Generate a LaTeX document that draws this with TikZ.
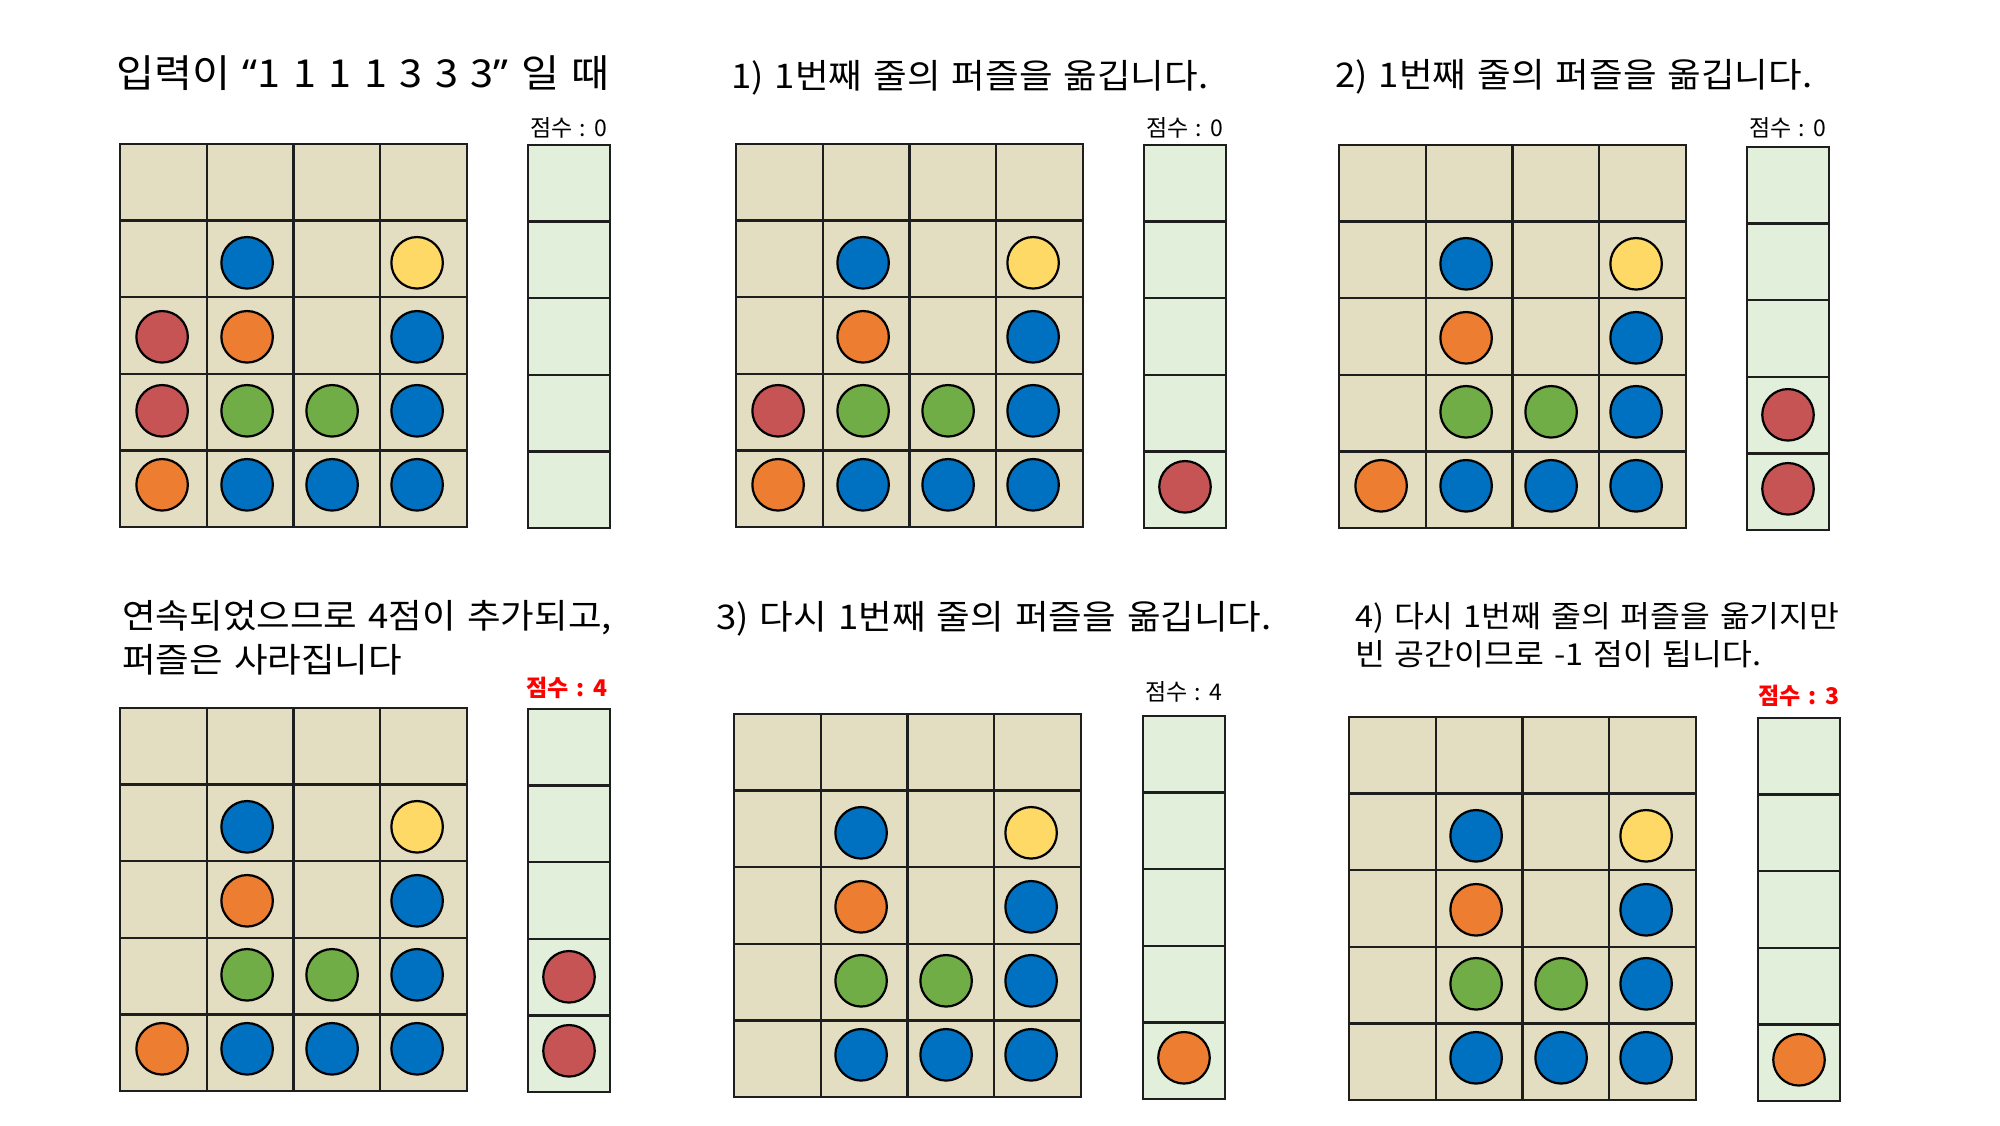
\documentclass[tikz,border=0pt]{standalone}
\usepackage{fontspec}
\setmainfont[WordSpace=1.35]{Noto Sans CJK KR}
\newfontfamily\titlefont[WordSpace=1.35,FakeStretch=1.075]{Noto Sans CJK KR}
\newfontfamily\latfont[FakeStretch=1.075]{Noto Sans}
\definecolor{beigeF}{HTML}{E3DDC1}
\definecolor{scoreF}{HTML}{E2EFDA}
\definecolor{gridL}{HTML}{1E1E1E}
\definecolor{blueB}{HTML}{0070C0}
\definecolor{yellowB}{HTML}{FFD966}
\definecolor{orangeB}{HTML}{ED7D31}
\definecolor{greenB}{HTML}{70AD47}
\definecolor{redB}{HTML}{C65454}
\definecolor{redT}{HTML}{FF0000}
\def\cellW{86.75}
\def\cellH{76.6}
\def\gridW{347}
\def\gridH{383}
\def\scW{82}
\def\ballX{42.1}
\def\ballDX{85.0}
\def\ballY{44.8}
\def\ballDY{74.0}
\newcommand\gridbox{%
  \fill[beigeF] (0,0) rectangle (\gridW,\gridH);
  \foreach \i in {1,2,3} \draw[gridln] ({\i*\cellW},0) -- ({\i*\cellW},\gridH);
  \foreach \j in {1,2,3,4} \draw[gridln] (0,{\j*\cellH}) -- (\gridW,{\j*\cellH});
  \draw[gridln] (0,0) rectangle (\gridW,\gridH);}
\newcommand\scorebox{%
  \fill[scoreF] (0,0) rectangle (\scW,\gridH);
  \foreach \j in {1,2,3,4} \draw[gridln] (0,{\j*\cellH}) -- (\scW,{\j*\cellH});
  \draw[gridln] (0,0) rectangle (\scW,\gridH);}
\newcommand\balls[2]{\foreach \c/\r/\k in {#2} {\node[ball,fill=\k] (#1-\c-\r) at ({\ballX+(\c-1)*\ballDX},{\ballY+(\r-1)*\ballDY}) {};}}
\newcommand\sballs[2]{\foreach \r/\k in {#2} {\node[ball,fill=\k] (#1-s-\r) at ({\scW/2},{\ballY+(\r-1)*\ballDY+1}) {};}}
\begin{document}
\begin{tikzpicture}[x=1pt,y=-1pt,
  gridln/.style={draw=gridL,line width=2.4pt},
  ball/.style={circle,draw=black,line width=2.2pt,minimum size=51.5pt,inner sep=0pt},
  title/.style={anchor=west,inner sep=0pt,font=\titlefont\fontsize{34}{44}\selectfont,align=left},
  smalltitle/.style={anchor=west,inner sep=0pt,font=\titlefont\fontsize{30.2}{38}\selectfont,align=left},
  scorelbl/.style={inner sep=0pt,font=\fontsize{23}{27}\selectfont},
  scorered/.style={inner sep=0pt,font=\fontsize{23}{27}\selectfont\bfseries,text=redT}]
\useasboundingbox (0,0) rectangle (2000,1125);
\fill[white] (0,0) rectangle (2000,1125);

% ---------- Panel 1 ----------
\node[anchor=west,inner sep=0pt,font=\titlefont\fontsize{38.5}{44}\selectfont] (t1) at (116,73) {입력이 {\latfont “}1 1 1 1 3 3 3{\latfont ”} 일 때};
\node[scorelbl] (l1) at (569,127.5) {점수 : 0};
\begin{scope}[shift={(120,144)}]
  \gridbox
  \balls{a}{2/2/blueB,4/2/yellowB,1/3/redB,2/3/orangeB,4/3/blueB,1/4/redB,2/4/greenB,3/4/greenB,4/4/blueB,1/5/orangeB,2/5/blueB,3/5/blueB,4/5/blueB}
\end{scope}
\begin{scope}[shift={(528,145)}]
  \scorebox
\end{scope}

% ---------- Panel 2 ----------
\node[title] (t2) at (731,78) {1) 1번째 줄의 퍼즐을 옮깁니다.};
\node[scorelbl] (l2) at (1185,127.5) {점수 : 0};
\begin{scope}[shift={(736,144)}]
  \gridbox
  \balls{b}{2/2/blueB,4/2/yellowB,2/3/orangeB,4/3/blueB,1/4/redB,2/4/greenB,3/4/greenB,4/4/blueB,1/5/orangeB,2/5/blueB,3/5/blueB,4/5/blueB}
\end{scope}
\begin{scope}[shift={(1144,145)}]
  \scorebox
  \sballs{b}{5/redB}
\end{scope}

% ---------- Panel 3 ----------
\node[title] (t3) at (1335,77) {2) 1번째 줄의 퍼즐을 옮깁니다.};
\node[scorelbl] (l3) at (1788,128) {점수 : 0};
\begin{scope}[shift={(1339,145)}]
  \gridbox
  \balls{c}{2/2/blueB,4/2/yellowB,2/3/orangeB,4/3/blueB,2/4/greenB,3/4/greenB,4/4/blueB,1/5/orangeB,2/5/blueB,3/5/blueB,4/5/blueB}
\end{scope}
\begin{scope}[shift={(1747,147)}]
  \scorebox
  \sballs{c}{4/redB,5/redB}
\end{scope}

% ---------- Panel 4 ----------
\node[title] (t4) at (122,637.5) {연속되었으므로 4점이 추가되고,\\퍼즐은 사라집니다};
\node[scorered] (l4) at (567,687.5) {점수 : 4};
\begin{scope}[shift={(120,708)}]
  \gridbox
  \balls{d}{2/2/blueB,4/2/yellowB,2/3/orangeB,4/3/blueB,2/4/greenB,3/4/greenB,4/4/blueB,1/5/orangeB,2/5/blueB,3/5/blueB,4/5/blueB}
\end{scope}
\begin{scope}[shift={(528,709)}]
  \scorebox
  \sballs{d}{4/redB,5/redB}
\end{scope}

% ---------- Panel 5 ----------
\node[title] (t5) at (716,619) {3) 다시 1번째 줄의 퍼즐을 옮깁니다.};
\node[scorelbl] (l5) at (1184,691.5) {점수 : 4};
\begin{scope}[shift={(734,714)}]
  \gridbox
  \balls{e}{2/2/blueB,4/2/yellowB,2/3/orangeB,4/3/blueB,2/4/greenB,3/4/greenB,4/4/blueB,2/5/blueB,3/5/blueB,4/5/blueB}
\end{scope}
\begin{scope}[shift={(1143,716)}]
  \scorebox
  \sballs{e}{5/orangeB}
\end{scope}

% ---------- Panel 6 ----------
\node[smalltitle] (t6) at (1355,635) {4) 다시 1번째 줄의 퍼즐을 옮기지만\\빈 공간이므로 -1 점이 됩니다.};
\node[scorered] (l6) at (1799,696) {점수 : 3};
\begin{scope}[shift={(1349,717)}]
  \gridbox
  \balls{f}{2/2/blueB,4/2/yellowB,2/3/orangeB,4/3/blueB,2/4/greenB,3/4/greenB,4/4/blueB,2/5/blueB,3/5/blueB,4/5/blueB}
\end{scope}
\begin{scope}[shift={(1758,718)}]
  \scorebox
  \sballs{f}{5/orangeB}
\end{scope}
\end{tikzpicture}
\end{document}
